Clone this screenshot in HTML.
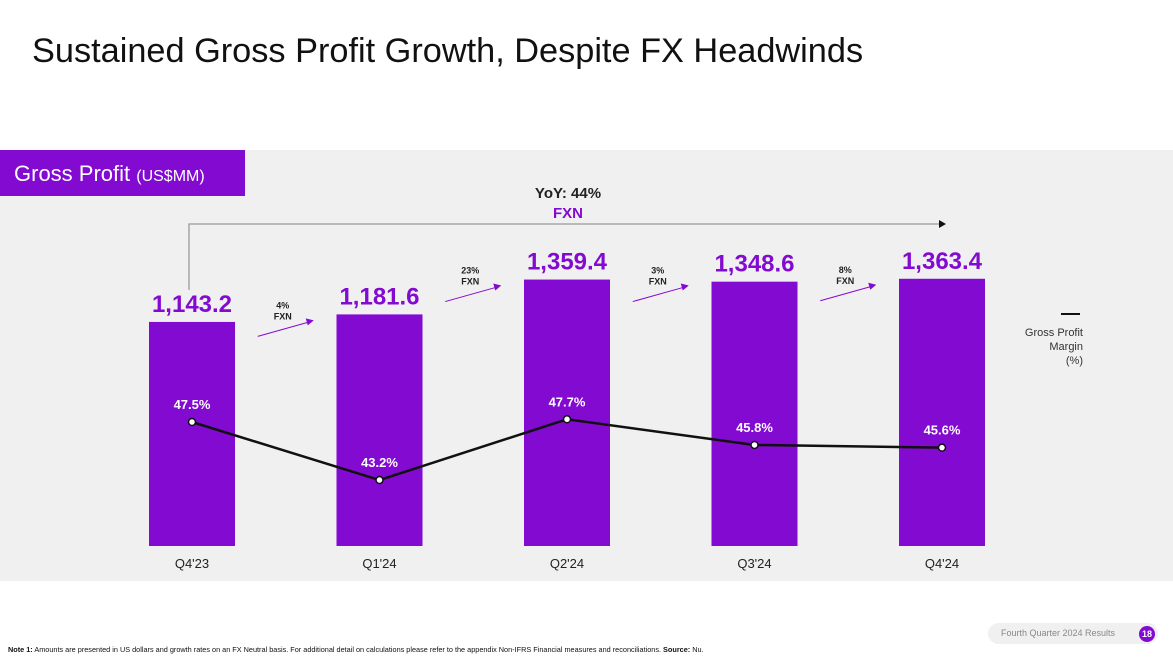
<!DOCTYPE html>
<html><head><meta charset="utf-8"><style>
body{margin:0;width:1173px;height:659px;background:#fff;font-family:"Liberation Sans",sans-serif;position:relative;overflow:hidden}
.t{position:absolute;white-space:nowrap}
</style></head><body>
<div class="t" style="left:32px;top:32px;font-size:34.3px;color:#111">Sustained Gross Profit Growth, Despite FX Headwinds</div>
<div style="position:absolute;left:0;top:150px;width:1173px;height:431px;background:#f0f0f0"></div>
<div style="position:absolute;left:0;top:150px;width:245px;height:46px;background:#820ad1;color:#fff">
<span class="t" style="left:14px;top:11px;font-size:22px">Gross Profit <span style="font-size:16px">(US$MM)</span></span></div>
<svg id="c" width="1173" height="659" style="position:absolute;left:0;top:0"></svg>
<div class="t" style="left:1061px;top:313px;width:19px;height:2px;background:#111"></div>
<div class="t" style="left:1000px;top:326px;width:83px;text-align:right;font-size:11px;line-height:14px;color:#333;white-space:normal">Gross Profit Margin<br>(%)</div>
<div class="t" style="left:8px;top:645px;font-size:7.3px;color:#111"><b>Note 1:</b> Amounts are presented in US dollars and growth rates on an FX Neutral basis. For additional detail on calculations please refer to the appendix Non-IFRS Financial measures and reconciliations. <b>Source:</b> Nu.</div>
<div style="position:absolute;left:988px;top:623px;width:170px;height:21px;border-radius:11px;background:#f0f0f0"></div>
<div class="t" style="left:1001px;top:628px;font-size:9px;color:#888">Fourth Quarter 2024 Results</div>
<div class="t" style="left:1139px;top:626px;width:16px;height:16px;border-radius:8px;background:#820ad1;color:#fff;font-size:9px;font-weight:bold;text-align:center;line-height:16px">18</div>
<script>
const categories=["Q4'23","Q1'24","Q2'24","Q3'24","Q4'24"];
const profitValues=[1143.2,1181.6,1359.4,1348.6,1363.4];
const marginValues=[47.5,43.2,47.7,45.8,45.6];
const growthLabels=["4%","23%","3%","8%"];
const svg=document.getElementById('c');const NS='http://www.w3.org/2000/svg';
function mk(t,a,txt){const e=document.createElementNS(NS,t);for(const k in a)e.setAttribute(k,a[k]);if(txt!==undefined)e.textContent=txt;svg.appendChild(e);return e;}
const x=i=>192+i*187.5;
const yBar=v=>546-v*0.196;
const yLine=v=>422+(47.5-v)*13.5;
const bw=86;
profitValues.forEach((v,i)=>{
 const r=mk('rect',{x:x(i)-bw/2,y:yBar(v),width:bw,height:546-yBar(v),fill:'#820ad1'});
 
 
 const l=mk('text',{x:x(i),y:yBar(v)-10,'text-anchor':'middle','font-size':24,'font-weight':'bold',fill:'#820ad1','font-family':'Liberation Sans'},v.toLocaleString('en-US',{minimumFractionDigits:1}));
 
 
 const c=mk('text',{x:x(i),y:568,'text-anchor':'middle','font-size':13,fill:'#222','font-family':'Liberation Sans'},categories[i]);
 
 
});
growthLabels.forEach((g,i)=>{
 const bx=(x(i)+x(i+1))/2, by=yBar(Math.max(profitValues[i],profitValues[i+1]))+14;
 const ln=mk('line',{x1:bx-28,y1:by+8,x2:bx+22,y2:by-6,stroke:'#820ad1','stroke-width':1});
 
 
 mk('polygon',{points:`${bx+28},${by-8} ${bx+20},${by-10} ${bx+22},${by-3}`,fill:'#820ad1'});
 const t=mk('text',{x:bx-3,y:by-20,'text-anchor':'middle','font-size':9,'font-weight':'bold',fill:'#222','font-family':'Liberation Sans'},g);
 
 
 mk('text',{x:bx-3,y:by-9,'text-anchor':'middle','font-size':9,'font-weight':'bold',fill:'#222','font-family':'Liberation Sans'},'FXN');
});
const yo=mk('polyline',{points:`${x(0)-3},${yBar(profitValues[0])-32} ${x(0)-3},224 ${x(4)-2},224`,fill:'none',stroke:'#999','stroke-width':1.3});


mk('polygon',{points:`${x(4)+4},224 ${x(4)-3},220 ${x(4)-3},228`,fill:'#111'});
mk('text',{x:568,y:198,'text-anchor':'middle','font-size':15,'font-weight':'bold',fill:'#222','font-family':'Liberation Sans'},'YoY: 44%');
mk('text',{x:568,y:218,'text-anchor':'middle','font-size':15,'font-weight':'bold',fill:'#820ad1','font-family':'Liberation Sans'},'FXN');
const pl=mk('polyline',{points:marginValues.map((v,i)=>x(i)+','+yLine(v)).join(' '),fill:'none',stroke:'#111','stroke-width':2.5});


marginValues.forEach((v,i)=>{
 const p=mk('circle',{cx:x(i),cy:yLine(v),r:3.5,fill:'#fff',stroke:'#111','stroke-width':1.5});
 
 
 const t=mk('text',{x:x(i),y:yLine(v)-13,'text-anchor':'middle','font-size':13,'font-weight':'bold',fill:'#fff','font-family':'Liberation Sans'},v.toFixed(1)+'%');
 
 
});
</script>
</body></html>
